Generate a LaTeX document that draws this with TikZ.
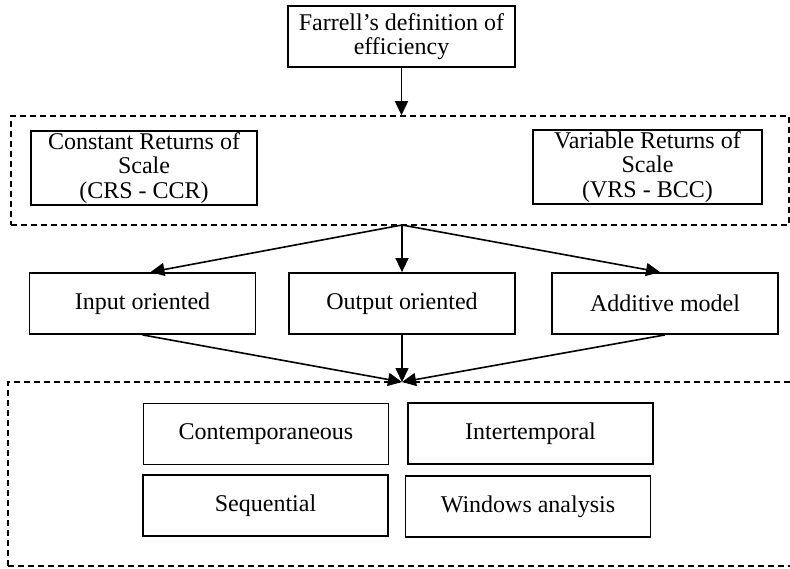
\documentclass[tikz,border=0pt]{standalone}
\usepackage{fontspec}
\setmainfont{Liberation Serif}
\usetikzlibrary{arrows.meta}
\tikzset{
  box/.style={draw, line width=1.8pt, align=center, inner sep=0pt,
    minimum width=227pt, minimum height=61pt, font=\fontsize{24}{24.5}\selectfont},
  group/.style={draw, line width=1.6pt, dash pattern=on 6pt off 4pt, inner sep=0pt},
  link/.style={line width=1.6pt, -{Triangle[length=14pt, width=13pt]}}
}
\begin{document}
\begin{tikzpicture}[x=1pt, y=-1pt]
  \useasboundingbox (0,0) rectangle (790,568);

  % מסגרות מקווקוות
  \node[group, minimum width=778pt, minimum height=109pt] (models) at (400,170.5) {};
  \node[group, minimum width=784pt, minimum height=184pt] (periods) at (400,474) {};

  % הגדרה
  \node[box] (farrell) at (401.5,36.5) {Farrell's definition of\\efficiency};
  \draw[link] (farrell.south) -- (farrell.south |- models.north);

  % תשואה לגודל
  \node[box, minimum width=226pt, minimum height=74pt] (crs) at (144,168) {Constant Returns of\\Scale\\(CRS - CCR)};
  \node[box, minimum width=229pt, minimum height=74pt] (vrs) at (647.5,167) {Variable Returns of\\Scale\\(VRS - BCC)};

  % אוריינטציה
  \foreach \m/\x/\txt in {input/142.5/Input oriented, output/402/Output oriented, additive/665/Additive model}
    \node[box, minimum width=226pt] (\m) at (\x,303.5) {\txt};

  \coordinate (split) at (402,225);
  \coordinate (merge) at (402,382);
  \foreach \m/\dx in {input/8, output/0, additive/-5}
    \draw[link] (split) -- ([xshift=\dx pt]\m.north);
  \foreach \m in {input, output, additive}
    \draw[link] (\m.south) -- (merge);

  % ניתוח לאורך זמן
  \foreach \m/\x/\y/\txt in {contemp/266/434/Contemporaneous, intertemp/530.5/433.5/Intertemporal,
      sequential/265.5/505.5/Sequential, windows/528/506.5/Windows analysis}
    \node[box, minimum width=245pt] (\m) at (\x,\y) {\txt};
\end{tikzpicture}
\end{document}
